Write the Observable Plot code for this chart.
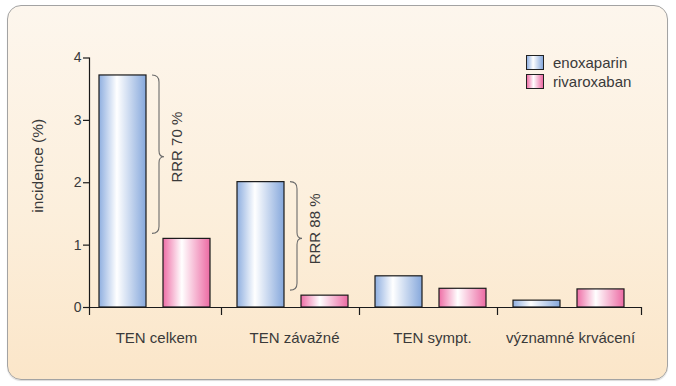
<!DOCTYPE html>
<html>
<head>
<meta charset="utf-8">
<script src="https://cdn.jsdelivr.net/npm/d3@7"></script>
<script src="https://cdn.jsdelivr.net/npm/@observablehq/plot@0.6"></script>
<style>
  html, body { margin: 0; padding: 0; background: #ffffff; }
  #wrap { position: relative; width: 676px; height: 386px; font-family: "Liberation Sans", Arial, sans-serif; }
  #panel { position: absolute; left: 7px; top: 5px; width: 659px; height: 373px;
    border: 1.5px solid #a3a3a3; border-radius: 14px;
    background: linear-gradient(to bottom, #fdf6ed 0%, #fcefdc 55%, #fbe6c9 100%);
    box-shadow: 0 1px 1px rgba(0,0,0,0.15); }
  #chart { position: absolute; left: 0; top: 0; }
  #legend { position: absolute; left: 526px; top: 53px; font-size: 15px; color: #3a3a3a; }
  .item { display: flex; align-items: center; height: 19px; }
  .sw { width: 16px; height: 13px; border: 1.2px solid #222; margin-right: 9px; }
</style>
</head>
<body>
<div id="wrap">
  <div id="panel"></div>
  <div id="chart"></div>
  <div id="legend"></div>
</div>
<script>
const categories = ["TEN celkem", "TEN závažné", "TEN sympt.", "významné krvácení"];
const seriesNames = ["enoxaparin", "rivaroxaban"];
const enoxaparin = [3.72, 2.01, 0.50, 0.11];
const rivaroxaban = [1.10, 0.19, 0.30, 0.29];
const yTicks = [0, 1, 2, 3, 4];
const rrrCategories = ["TEN celkem", "TEN závažné"];
const rrrLabels = ["RRR 70 %", "RRR 88 %"];

const enoxData = categories.map((c, i) => ({cat: c, value: enoxaparin[i]}));
const rivaData = categories.map((c, i) => ({cat: c, value: rivaroxaban[i]}));
const braces = rrrCategories.map((c, i) => {
  const k = categories.indexOf(c);
  return {cat: c, top: enoxaparin[k], bottom: rivaroxaban[k], mid: (enoxaparin[k] + rivaroxaban[k]) / 2, label: rrrLabels[i]};
});

const gradients = {
  enoxaparin: {id: "gEnox", stops: [["0%", "#8fafe0"], ["38%", "#ffffff"], ["100%", "#86a8dc"]]},
  rivaroxaban: {id: "gRiva", stops: [["0%", "#ee6ea6"], ["40%", "#ffffff"], ["100%", "#ec6aa3"]]}
};

const font = "'Liberation Sans', Arial, sans-serif";
const textColor = "#3a3a3a";
const step = 138;
const enoxInsetL = 10, barW = 47, rivaInsetL = 74;

function braceMark(index, scales, values, dimensions, context) {
  const g = d3.create("svg:g");
  const x = scales.x, y = scales.y;
  for (const b of braces) {
    const x0 = x(b.cat) + enoxInsetL + barW + 6;
    const yT = y(b.top), yB = y(b.bottom) - 5, ym = y(b.mid);
    const d = `M${x0},${yT} Q${x0 + 7},${yT} ${x0 + 7},${yT + 7} L${x0 + 7},${ym - 6} Q${x0 + 7},${ym} ${x0 + 12},${ym} Q${x0 + 7},${ym} ${x0 + 7},${ym + 6} L${x0 + 7},${yB - 7} Q${x0 + 7},${yB} ${x0},${yB}`;
    g.append("path").attr("d", d).attr("fill", "none").attr("stroke", "#6b6b6b").attr("stroke-width", 1.1);
  }
  return g.node();
}

const chart = Plot.plot({
  width: 676,
  height: 386,
  marginLeft: 89,
  marginRight: 35,
  marginTop: 57.5,
  marginBottom: 79,
  style: {background: "transparent", fontFamily: font, color: textColor},
  x: {domain: categories, padding: 0, axis: null},
  y: {domain: [0, 4], axis: null},
  marks: [
    Plot.barY(enoxData, {x: "cat", y: "value", fill: "url(#gEnox)", stroke: "#1a1a1a", strokeWidth: 1.2,
      insetLeft: enoxInsetL, insetRight: step - enoxInsetL - barW}),
    Plot.barY(rivaData, {x: "cat", y: "value", fill: "url(#gRiva)", stroke: "#1a1a1a", strokeWidth: 1.2,
      insetLeft: rivaInsetL, insetRight: step - rivaInsetL - barW}),
    Plot.ruleY([0], {stroke: "#1a1a1a", strokeWidth: 1.2}),
    Plot.frame({anchor: "left", stroke: "#1a1a1a", strokeWidth: 1.2}),
    Plot.axisY({ticks: yTicks, tickFormat: d3.format("d"), tickSize: 6, tickPadding: 2, fontSize: 14, label: null, stroke: "#1a1a1a", strokeWidth: 1.2, color: textColor}),
    Plot.axisX({ticks: [categories[0]], tickSize: 8, dx: -step / 2, text: null, label: null, stroke: "#1a1a1a", strokeWidth: 1.2}),
    Plot.axisX({ticks: categories.slice(0, 3), tickSize: 8, dx: 63, text: null, label: null, stroke: "#1a1a1a", strokeWidth: 1.2}),
    Plot.axisX({ticks: [categories[3]], tickSize: 8, dx: step / 2, text: null, label: null, stroke: "#1a1a1a", strokeWidth: 1.2}),
    Plot.axisX({ticks: categories, tickSize: 0, tickPadding: 25, fontSize: 15, dx: -2, label: null, color: textColor}),
    Plot.text(["incidence (%)"], {frameAnchor: "left", textAnchor: "middle", rotate: -90, dx: -51, dy: -17, fontSize: 15.5, fill: textColor}),
    braceMark,
    Plot.text(braces, {x: "cat", y: "mid", text: "label", rotate: -90, dx: 19, dy: -10, fontSize: 15, fill: textColor})
  ]
});

// gradient definitions for the bar fills
const svg = d3.select(chart);
const defs = svg.insert("defs", ":first-child");
for (const k of seriesNames) {
  const g = gradients[k];
  const lg = defs.append("linearGradient").attr("id", g.id).attr("x1", "0%").attr("x2", "100%").attr("y1", "0%").attr("y2", "0%");
  for (const [o, c] of g.stops) lg.append("stop").attr("offset", o).attr("stop-color", c);
}
document.getElementById("chart").appendChild(chart);

// legend
const legend = d3.select("#legend");
for (const k of seriesNames) {
  const g = gradients[k];
  const css = `linear-gradient(to right, ${g.stops.map(([o, c]) => c + " " + o).join(", ")})`;
  const it = legend.append("div").attr("class", "item");
  it.append("div").attr("class", "sw").style("background", css);
  it.append("span").text(k);
}
</script>
</body>
</html>
